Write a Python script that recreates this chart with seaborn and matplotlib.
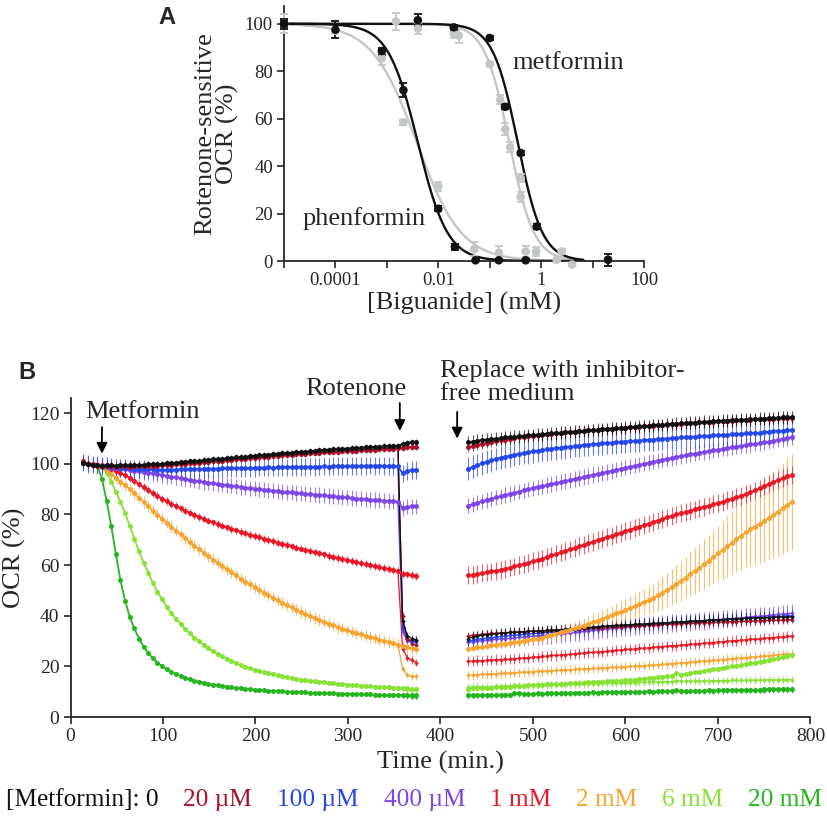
import numpy as np
import pandas as pd
import seaborn as sns
import matplotlib.pyplot as plt
from matplotlib.offsetbox import TextArea, HPacker, AnchoredOffsetbox
from matplotlib.ticker import NullLocator

# ---------------- panel A: dose response (conc in mM, % rotenone-sensitive OCR) ----------------
phen_black_x = [1e-5, 1e-4, 8e-4, 2.1e-3, 0.01, 0.021, 0.053, 0.15, 0.5]
phen_black_y = [100, 97.5, 88.5, 72, 22, 6, 0.3, 0.3, 0.3]
phen_black_e = [1.5, 3.5, 1.5, 3, 1, 1.2, 0.5, 0.5, 0.5]

met_black_x = [1e-5, 0.004, 0.02, 0.1, 0.2, 0.4, 0.82, 20]
met_black_y = [100, 101.5, 98.5, 94, 65, 45.5, 14.5, 0.5]
met_black_e = [2, 2.5, 1, 1, 1, 1, 1, 2.5]

phen_gray_x = [1e-5, 1e-4, 8e-4, 2.1e-3, 0.01, 0.05, 0.15, 0.5]
phen_gray_y = [100, 97, 85.5, 58.5, 31.5, 5, 3.5, 4]
phen_gray_e = [4, 1, 3, 1, 2, 3, 3, 2.5]

met_gray_x = [1e-5, 1.5e-3, 0.004, 0.02, 0.025, 0.1, 0.16, 0.2, 0.25, 0.4, 0.4, 0.8, 2, 2.5, 4, 20]
met_gray_y = [100, 101, 98, 96, 95, 83, 68, 55.5, 48, 35, 27, 4, 0.5, 4, -1.5, 0.5]
met_gray_e = [4, 3.5, 2.5, 2, 3, 1, 2, 2.5, 2, 1.5, 2, 2, 0.5, 1, 0.5, 1]

# fitted curves: (IC50 in mM, Hill slope)
fit_phen_black = (0.004, 1.5)
fit_phen_gray = (0.0038, 1.0)
fit_met_black = (0.35, 1.8)
fit_met_gray = (0.24, 1.8)

a_xticks = [1e-5, 1e-4, 1e-3, 1e-2, 1e-1, 1, 10, 100]
a_xticklabels = ['', '0.0001', '', '0.01', '', '1', '', '100']

# ---------------- panel B: OCR time course ----------------
conc_labels = ['0', '20 µM', '100 µM', '400 µM', '1 mM', '2 mM', '6 mM', '20 mM']
conc_colors = ['#111111', '#a8102a', '#2347e8', '#7c45e6', '#ea1826', '#f6a531', '#86e234', '#25b51f']

t_pre = list(range(14, 355, 5))      # before rotenone
t_tail = [359, 364, 369, 374]        # after rotenone injection
t_post = list(range(430, 781, 5))    # after medium change

pre_0 = [100.5, 100, 99.5, 99.5, 99, 99.5, 99.5, 99.3, 99.5, 99.5,
         99.4, 99.5, 99.6, 99.5, 99.8, 100, 99.8, 100, 100.2, 100.3,
         100.5, 100.6, 100.8, 101, 101.2, 101.1, 101.4, 101.6, 101.8, 101.9,
         102, 102.2, 102.4, 102.5, 102.7, 102.8, 103, 103.2, 103.3, 103.4,
         103.6, 103.8, 104, 104.1, 104.3, 104.4, 104.6, 104.7, 104.8, 105,
         105.2, 105.3, 105.5, 105.6, 105.7, 105.9, 106, 106, 106.2, 106.3,
         106.4, 106.5, 106.6, 106.7, 106.8, 106.9, 107, 107.1, 107.2]
pre_20u = [101, 100, 99.5, 99.2, 98.8, 99, 99, 98.8, 99, 99,
           98.9, 99, 99, 99.1, 99.2, 99.3, 99.3, 99.5, 99.6, 99.7,
           99.8, 100, 100.1, 100.3, 100.5, 100.5, 100.7, 100.9, 101, 101.2,
           101.3, 101.5, 101.6, 101.8, 101.9, 102.1, 102.2, 102.4, 102.5, 102.7,
           102.8, 103, 103.1, 103.3, 103.4, 103.5, 103.7, 103.8, 103.9, 104.1,
           104.2, 104.3, 104.5, 104.6, 104.7, 104.8, 104.9, 105, 105.1, 105.2,
           105.3, 105.4, 105.5, 105.6, 105.7, 105.8, 105.9, 106, 106.1]
pre_100u = [100.5, 100, 99.7, 99.5, 99.2, 99, 98.8, 98.6, 98.5, 98.3,
            98.2, 98.1, 98, 97.9, 97.8, 97.8, 97.7, 97.7, 97.6, 97.7,
            97.7, 97.8, 97.8, 97.9, 98, 97.9, 98, 98.1, 98, 98.1,
            98.2, 98.2, 98.3, 98.2, 98.3, 98.4, 98.3, 98.4, 98.5, 98.5,
            98.6, 98.5, 98.6, 98.7, 98.6, 98.7, 98.8, 98.7, 98.8, 98.9,
            98.8, 98.9, 99, 98.9, 99, 99.1, 99, 99.1, 99.2, 99.1,
            99.2, 99.2, 99.3, 99.2, 99.3, 99.2, 99.1, 99, 99]
pre_400u = [100.5, 100, 99.7, 99.5, 99.2, 98.8, 98.5, 98.2, 98, 97.8,
            97.5, 97.3, 97, 96.8, 96.5, 96.2, 96, 95.6, 95.2, 94.9,
            94.6, 94.3, 94, 93.7, 93.4, 93.1, 92.8, 92.5, 92.3, 92,
            91.8, 91.5, 91.3, 91.1, 90.8, 90.6, 90.4, 90.2, 90, 89.8,
            89.6, 89.4, 89.2, 89, 88.8, 88.7, 88.5, 88.3, 88.2, 88,
            87.8, 87.7, 87.5, 87.3, 87.2, 87, 86.8, 86.7, 86.5, 86.3,
            86.2, 86, 85.9, 85.7, 85.6, 85.4, 85.3, 85.2, 85]
pre_1m = [100.5, 100, 99.8, 99.6, 99.5, 99, 98, 97, 96.3, 95.5,
          94.5, 93.3, 92, 90.8, 89.6, 88.4, 87.3, 86.2, 85.2, 84.2,
          83.3, 82.4, 81.5, 80.7, 79.9, 79.1, 78.4, 77.6, 76.9, 76.2,
          75.6, 74.9, 74.3, 73.7, 73.1, 72.6, 72, 71.5, 71, 70.4,
          69.9, 69.4, 68.9, 68.4, 67.9, 67.4, 66.9, 66.5, 66, 65.5,
          65, 64.6, 64.2, 63.7, 63.3, 62.8, 62.4, 62, 61.6, 61.2,
          60.8, 60.4, 60, 59.6, 59.2, 58.8, 58.4, 58, 57.6]
pre_2m = [100.5, 100, 99.8, 99.5, 99, 97.5, 96, 94.5, 93, 91.5,
          90, 88.3, 86.6, 84.9, 83.2, 81.5, 79.9, 78.3, 76.7, 75.1,
          73.6, 72.1, 70.6, 69.1, 67.7, 66.3, 64.9, 63.5, 62.2, 60.9,
          59.6, 58.3, 57.1, 55.9, 54.7, 53.5, 52.4, 51.3, 50.2, 49.1,
          48.1, 47.1, 46.1, 45.1, 44.2, 43.3, 42.4, 41.5, 40.7, 39.9,
          39.1, 38.3, 37.6, 36.9, 36.2, 35.5, 34.9, 34.3, 33.7, 33.1,
          32.6, 32.1, 31.6, 31.1, 30.6, 30.1, 29.6, 29.1, 28.6]
pre_6m = [100.5, 100, 99.8, 99.5, 99, 96.5, 93, 89, 85, 80.5,
          75.5, 70.5, 65.5, 61, 57, 53, 49.5, 46.5, 43.5, 41,
          38.8, 36.7, 34.8, 33, 31.4, 29.9, 28.5, 27.2, 26, 24.9,
          23.9, 23, 22.1, 21.3, 20.6, 19.9, 19.3, 18.7, 18.2, 17.7,
          17.2, 16.8, 16.4, 16, 15.7, 15.4, 15.1, 14.8, 14.5, 14.3,
          14.1, 13.9, 13.7, 13.5, 13.3, 13.1, 13, 12.8, 12.7, 12.5,
          12.4, 12.3, 12.1, 12, 11.9, 11.8, 11.7, 11.6, 11.5]
pre_20m = [100.5, 100, 99.8, 99.5, 94, 85.5, 75.5, 64.5, 54, 46,
           39.5, 35, 31, 27.8, 25.2, 23.2, 21.5, 20.1, 18.9, 17.9,
           17, 16.2, 15.5, 14.9, 14.4, 13.9, 13.5, 13.1, 12.8, 12.5,
           12.2, 12, 11.7, 11.5, 11.3, 11.1, 11, 10.8, 10.7, 10.5,
           10.4, 10.3, 10.2, 10.1, 10, 9.9, 9.8, 9.7, 9.7, 9.6,
           9.5, 9.5, 9.4, 9.3, 9.3, 9.2, 9.2, 9.1, 9.1, 9,
           9, 8.9, 8.9, 8.8, 8.8, 8.8, 8.7, 8.7, 8.7]

tail_ctrl = [[107.8, 108.4, 108.5, 108.6], [106.2, 106.5, 106.6, 106.8],
             [96.2, 97.2, 97.5, 97.6], [82.5, 83, 83.2, 83.3],
             [56.5, 56.3, 56, 55.8], [28, 27.5, 27.2, 27],
             [11.4, 11.3, 11.2, 11.2], [8.6, 8.5, 8.5, 8.5]]
tail_rot = [[38, 32, 31, 30.5], [40, 31, 29, 28.5],
            [35, 31, 30, 29.5], [34, 30, 30, 30.5],
            [27, 23.5, 22.5, 21.5], [19, 16.5, 16, 16],
            [11, 10.6, 10.5, 10.5], [8.4, 8.1, 8, 8]]

post_ctrl_0 = [108.5, 108.8, 109.2, 109.3, 109.6, 109.8, 110, 110.1, 110.4, 110.5,
               110.7, 110.9, 111, 111.2, 111.4, 111.5, 111.7, 111.8, 112, 112.1,
               112.3, 112.4, 112.6, 112.7, 112.9, 113, 113.2, 113.3, 113.5, 113.6,
               113.8, 113.9, 114, 114.2, 114.3, 114.5, 114.6, 114.8, 114.9, 115,
               115.2, 115.3, 115.4, 115.6, 115.7, 115.8, 116, 116.1, 116.2, 116.3,
               116.5, 116.6, 116.7, 116.8, 116.9, 117, 117.1, 117.2, 117.3, 117.4,
               117.5, 117.6, 117.7, 117.8, 117.9, 118, 118.1, 118.2, 118.3, 118.4,
               118.5]
post_ctrl_20u = [106.5, 107, 107.4, 107.8, 108.2, 108.6, 109, 109.3, 109.6, 109.9,
                 110.2, 110.4, 110.6, 110.9, 111.1, 111.3, 111.5, 111.7, 111.9, 112,
                 112.2, 112.4, 112.5, 112.7, 112.9, 113, 113.2, 113.3, 113.5, 113.6,
                 113.8, 113.9, 114, 114.2, 114.3, 114.5, 114.6, 114.7, 114.9, 115,
                 115.1, 115.3, 115.4, 115.5, 115.6, 115.8, 115.9, 116, 116.1, 116.2,
                 116.4, 116.5, 116.6, 116.7, 116.8, 116.9, 117, 117.1, 117.2, 117.3,
                 117.4, 117.5, 117.6, 117.7, 117.7, 117.8, 117.9, 118, 118, 118.1,
                 118.2]
post_ctrl_100u = [98, 98.8, 99.5, 100.2, 100.8, 101.4, 101.9, 102.4, 102.8, 103.2,
                  103.6, 104, 104.3, 104.6, 104.9, 105.2, 105.5, 105.7, 106, 106.2,
                  106.4, 106.6, 106.8, 107, 107.2, 107.4, 107.6, 107.8, 107.9, 108.1,
                  108.2, 108.4, 108.5, 108.7, 108.8, 109, 109.1, 109.2, 109.4, 109.5,
                  109.6, 109.8, 109.9, 110, 110.1, 110.3, 110.4, 110.5, 110.6, 110.7,
                  110.9, 111, 111.1, 111.2, 111.3, 111.4, 111.5, 111.6, 111.8, 111.9,
                  112, 112.1, 112.2, 112.3, 112.5, 112.6, 112.8, 113, 113.1, 113.3,
                  113.4]
post_ctrl_400u = [83.5, 84, 84.6, 85.2, 85.7, 86.2, 86.7, 87.2, 87.7, 88.1,
                  88.6, 89, 89.5, 89.9, 90.4, 90.8, 91.2, 91.6, 92, 92.4,
                  92.8, 93.2, 93.6, 94, 94.4, 94.8, 95.2, 95.6, 96, 96.4,
                  96.8, 97.2, 97.6, 98, 98.4, 98.8, 99.2, 99.6, 100, 100.4,
                  100.8, 101.2, 101.6, 102, 102.3, 102.7, 103, 103.4, 103.7, 104,
                  104.4, 104.7, 105, 105.3, 105.6, 105.9, 106.2, 106.5, 106.8, 107.1,
                  107.4, 107.7, 107.9, 108.2, 108.5, 108.8, 109.1, 109.5, 109.8, 110.2,
                  110.5]
post_ctrl_1m = [56, 56.2, 56.5, 56.8, 57.1, 57.5, 57.8, 58.2, 58.6, 59,
                59.5, 60, 60.4, 60.9, 61.5, 62, 62.6, 63.2, 63.8, 64.4,
                65, 65.6, 66.2, 66.8, 67.4, 68, 68.6, 69.2, 69.8, 70.4,
                71, 71.6, 72.2, 72.8, 73.4, 74, 74.6, 75.2, 75.8, 76.4,
                77, 77.6, 78.2, 78.8, 79.4, 80, 80.5, 81, 81.5, 82,
                82.5, 83, 83.5, 84, 84.5, 85, 85.6, 86.2, 86.8, 87.4,
                88, 88.7, 89.5, 90.3, 91.2, 92, 92.8, 93.6, 94.3, 95,
                95.5]
post_ctrl_2m = [27, 27.2, 27.5, 27.7, 28, 28.3, 28.5, 28.8, 29, 29.3,
                29.5, 29.8, 30.1, 30.4, 30.7, 31, 31.4, 31.9, 32.4, 32.9,
                33.5, 34, 34.5, 35, 35.5, 36, 36.7, 37.4, 38.1, 38.8,
                39.5, 40.2, 40.9, 41.6, 42.3, 43, 43.8, 44.6, 45.4, 46.2,
                47, 48, 49.1, 50.2, 51.3, 52.5, 53.8, 55.1, 56.4, 57.7,
                59, 60.4, 61.8, 63.2, 64.6, 66, 67.4, 68.8, 70.2, 71.6,
                73, 74.1, 75.2, 76.3, 77.4, 78.5, 79.8, 81.1, 82.4, 83.7,
                85]
post_ctrl_6m = [11.2, 11.3, 11.4, 11.5, 11.6, 11.6, 11.7, 11.8, 11.9, 12,
                12.4, 12.3, 12.4, 12.5, 12.6, 12.7, 12.8, 12.9, 13, 13,
                13.1, 13.2, 13.3, 13.4, 13.5, 13.6, 13.7, 13.8, 13.9, 14,
                14.1, 14.2, 14.3, 14.4, 14.5, 14.7, 14.8, 15, 15.2, 15.3,
                15.5, 15.7, 15.9, 16.1, 16.3, 17.2, 16.7, 17, 17.3, 17.6,
                17.9, 18.2, 18.5, 18.8, 19.1, 19.4, 19.7, 20, 20.3, 20.6,
                20.9, 21.2, 21.5, 21.8, 22.1, 22.4, 22.8, 23.2, 23.6, 24,
                24.3]
post_ctrl_20m = [8.6, 8.5, 8.6, 8.7, 8.6, 8.7, 8.8, 8.7, 8.8, 8.8,
                 9.5, 9.3, 9.2, 9.1, 9.2, 9.3, 9.2, 9.3, 9.4, 9.3,
                 9.4, 9.5, 9.4, 9.5, 9.6, 9.5, 9.6, 9.7, 9.6, 9.7,
                 9.8, 9.7, 9.8, 9.9, 9.8, 9.9, 10, 9.9, 10, 10.1,
                 10, 10.1, 10.2, 10.1, 10.2, 10.6, 10.3, 10.2, 10.3, 10.4,
                 10.3, 10.4, 10.5, 10.4, 10.5, 10.6, 10.5, 10.6, 10.7, 10.6,
                 10.7, 10.8, 10.7, 10.8, 10.9, 11, 10.9, 11, 11.1, 11,
                 11.1]

post_rot_0 = [31, 31.6, 32, 32.3, 32.5, 32.7, 32.9, 33.1, 33.2, 33.4,
              33.5, 33.6, 33.7, 33.8, 33.9, 34, 34.1, 34.2, 34.3, 34.4,
              34.5, 34.6, 34.8, 34.9, 35.1, 35.2, 35.4, 35.5, 35.7, 35.8,
              36, 36.1, 36.2, 36.3, 36.4, 36.5, 36.6, 36.7, 36.8, 36.9,
              37, 37.1, 37.2, 37.3, 37.4, 37.5, 37.6, 37.7, 37.8, 37.9,
              38, 38.1, 38.2, 38.3, 38.4, 38.5, 38.6, 38.7, 38.8, 38.9,
              39, 39.1, 39.1, 39.2, 39.3, 39.3, 39.4, 39.4, 39.5, 39.5,
              39.6]
post_rot_20u = [32, 32.3, 32.5, 32.7, 32.9, 33, 33.1, 33.2, 33.3, 33.4,
                33.5, 33.6, 33.7, 33.8, 33.9, 34, 34.1, 34.1, 34.2, 34.3,
                34.4, 34.5, 34.6, 34.7, 34.8, 34.9, 35, 35.1, 35.2, 35.3,
                35.4, 35.5, 35.6, 35.7, 35.8, 35.9, 36, 36.1, 36.2, 36.3,
                36.4, 36.5, 36.6, 36.6, 36.7, 36.8, 36.9, 37, 37, 37.1,
                37.2, 37.3, 37.3, 37.4, 37.5, 37.5, 37.6, 37.7, 37.7, 37.8,
                37.9, 37.9, 38, 38, 38.1, 38.2, 38.2, 38.3, 38.3, 38.4,
                38.5]
post_rot_100u = [30, 30.4, 30.7, 31, 31.2, 31.4, 31.6, 31.8, 32, 32.2,
                 32.3, 32.5, 32.7, 32.8, 33, 33.1, 33.3, 33.4, 33.6, 33.7,
                 33.9, 34, 34.2, 34.3, 34.5, 34.6, 34.8, 34.9, 35.1, 35.2,
                 35.4, 35.5, 35.7, 35.8, 36, 36.1, 36.2, 36.4, 36.5, 36.6,
                 36.8, 36.9, 37, 37.2, 37.3, 37.4, 37.5, 37.7, 37.8, 37.9,
                 38, 38.1, 38.2, 38.3, 38.4, 38.5, 38.6, 38.7, 38.8, 38.9,
                 39, 39.1, 39.2, 39.3, 39.4, 39.5, 39.6, 39.7, 39.8, 39.9,
                 40]
post_rot_400u = [29.5, 29.8, 30, 30.2, 30.4, 30.6, 30.7, 30.9, 31, 31.2,
                 31.3, 31.5, 31.6, 31.8, 31.9, 32.1, 32.2, 32.4, 32.5, 32.7,
                 32.8, 33, 33.2, 33.4, 33.6, 33.8, 34, 34.2, 34.4, 34.6,
                 34.8, 35, 35.2, 35.3, 35.5, 35.6, 35.8, 35.9, 36.1, 36.2,
                 36.4, 36.5, 36.7, 36.8, 37, 37.1, 37.3, 37.4, 37.6, 37.7,
                 37.9, 38, 38.2, 38.3, 38.5, 38.6, 38.8, 38.9, 39.1, 39.2,
                 39.4, 39.5, 39.7, 39.8, 40, 40.1, 40.3, 40.5, 40.7, 40.8,
                 41]
post_rot_1m = [22, 22.1, 22.3, 22.2, 22.4, 22.5, 22.7, 22.6, 22.8, 22.9,
               23, 23.2, 23.3, 23.4, 23.7, 23.7, 23.9, 24, 24.3, 24.3,
               24.5, 24.6, 24.8, 25, 25.1, 25.2, 25.5, 25.5, 25.7, 25.8,
               26, 26.2, 26.3, 26.4, 26.7, 26.7, 26.9, 27.1, 27.2, 27.3,
               27.5, 27.7, 27.8, 27.9, 28.2, 28.2, 28.4, 28.6, 28.7, 28.8,
               29, 29.2, 29.3, 29.4, 29.7, 29.7, 29.9, 30.1, 30.2, 30.3,
               30.5, 30.7, 30.8, 30.9, 31.2, 31.2, 31.4, 31.6, 31.7, 31.8,
               32]
post_rot_2m = [16.5, 16.6, 16.7, 16.8, 16.9, 17, 17.1, 17.2, 17.3, 17.4,
               17.5, 17.6, 17.7, 17.8, 17.9, 18, 18.1, 18.2, 18.3, 18.4,
               18.5, 18.6, 18.7, 18.8, 18.9, 19, 19.1, 19.2, 19.3, 19.4,
               19.5, 19.6, 19.7, 19.8, 19.9, 20, 20.1, 20.2, 20.3, 20.4,
               20.5, 20.6, 20.8, 20.9, 21.1, 21.2, 21.4, 21.5, 21.7, 21.8,
               22, 22.1, 22.3, 22.4, 22.6, 22.7, 22.9, 23, 23.2, 23.3,
               23.5, 23.6, 23.8, 23.9, 24.1, 24.2, 24.4, 24.5, 24.7, 24.8,
               25]
post_rot_6m = [11.8, 11.8, 11.9, 11.9, 12, 12, 12.1, 12.1, 12.2, 12.2,
               12.5, 12.4, 12.4, 12.5, 12.5, 12.6, 12.6, 12.7, 12.7, 12.8,
               12.8, 12.9, 12.9, 13, 13, 13.1, 13.1, 13.2, 13.2, 13.3,
               13.3, 13.4, 13.4, 13.5, 13.5, 13.6, 13.6, 13.7, 13.7, 13.8,
               13.8, 13.9, 13.9, 14, 14, 14.4, 14.1, 14.1, 14.2, 14.2,
               14.2, 14.3, 14.3, 14.3, 14.4, 14.4, 14.4, 14.5, 14.5, 14.5,
               14.5, 14.6, 14.6, 14.6, 14.6, 14.7, 14.7, 14.7, 14.7, 14.8,
               14.8]
post_rot_20m = [8.3, 8.3, 8.4, 8.4, 8.4, 8.5, 8.5, 8.5, 8.6, 8.6,
                9.1, 9, 8.9, 8.9, 9, 9, 9, 9.1, 9.1, 9.1,
                9.2, 9.2, 9.2, 9.3, 9.3, 9.3, 9.4, 9.4, 9.4, 9.5,
                9.5, 9.5, 9.6, 9.6, 9.6, 9.7, 9.7, 9.7, 9.8, 9.8,
                9.8, 9.9, 9.9, 9.9, 10, 10.3, 10, 10, 10.1, 10.1,
                10.1, 10.1, 10.2, 10.2, 10.2, 10.2, 10.3, 10.3, 10.3, 10.3,
                10.3, 10.4, 10.4, 10.4, 10.4, 10.5, 10.5, 10.5, 10.5, 10.5,
                10.6]

# SEM (half error bar)
err_pre = [1.2, 1.2, 3.5, 3, 1.5, 2.2, 0.8, 0.8]
err_rot_tail = [1.5, 1.5, 1.5, 1.5, 1.5, 1.2, 0.8, 0.8]
err_post_ctrl = [2.5, 2, 4.5, 3, 3.5, None, 1, 1]
err_post_rot = [2, 1.5, 2.5, 3.5, 2, 1.8, 1.5, 1]
err_post_ctrl_2m = [1, 1, 1, 1, 1, 1.2, 1.2, 1.3, 1.4, 1.5,
                    1.5, 1.6, 1.7, 1.8, 1.9, 2, 2, 2.1, 2.2, 2.3,
                    2.4, 2.5, 2.6, 2.7, 2.8, 3, 3.1, 3.2, 3.4, 3.5,
                    3.6, 3.8, 4, 4.2, 4.4, 4.6, 4.8, 5, 5.3, 5.6,
                    5.9, 6.2, 6.5, 6.8, 7.1, 7.4, 7.8, 8.2, 8.6, 9,
                    9.4, 9.8, 10.2, 10.6, 11, 11.5, 12, 12.5, 13, 13.5,
                    14, 14.5, 15, 15.5, 16, 16.5, 17, 17.5, 18, 18.5,
                    19]

pre = [pre_0, pre_20u, pre_100u, pre_400u, pre_1m, pre_2m, pre_6m, pre_20m]
post_ctrl = [post_ctrl_0, post_ctrl_20u, post_ctrl_100u, post_ctrl_400u,
             post_ctrl_1m, post_ctrl_2m, post_ctrl_6m, post_ctrl_20m]
post_rot = [post_rot_0, post_rot_20u, post_rot_100u, post_rot_400u,
            post_rot_1m, post_rot_2m, post_rot_6m, post_rot_20m]

# long table, one row per measurement
rows = []
for k, lab in enumerate(conc_labels):
    e_post = err_post_ctrl_2m if err_post_ctrl[k] is None else [err_post_ctrl[k]] * len(t_post)
    traces = [
        ('ctrl', 'a', t_pre + t_tail, pre[k] + tail_ctrl[k], [err_pre[k]] * (len(t_pre) + 4)),
        ('rot', 'a', [t_pre[-1]] + t_tail, [pre[k][-1]] + tail_rot[k], [0] + [err_rot_tail[k]] * 4),
        ('ctrl', 'b', t_post, post_ctrl[k], e_post),
        ('rot', 'b', t_post, post_rot[k], [err_post_rot[k]] * len(t_post)),
    ]
    for well, seg, tt, yy, ee in traces:
        for t, y, e in zip(tt, yy, ee):
            rows.append(dict(t=t, ocr=y, err=e, conc=lab, well=well, trace=f'{lab}-{well}-{seg}'))
df = pd.DataFrame(rows)

# ---------------- figure ----------------
sns.set_style('ticks')
plt.rcParams['font.family'] = ['Liberation Serif', 'DejaVu Serif']
plt.rcParams['axes.linewidth'] = 1.3
plt.rcParams['xtick.major.width'] = 1.2
plt.rcParams['ytick.major.width'] = 1.2
plt.rcParams['xtick.major.size'] = 5
plt.rcParams['ytick.major.size'] = 5

fig = plt.figure(figsize=(8.28, 8.16), dpi=100)
W, H = 828, 816
axA = fig.add_axes([284 / W, 1 - 261 / H, 360 / W, 255 / H])
axB = fig.add_axes([70.5 / W, 1 - 717 / H, 740 / W, 319 / H])

# ---- panel A ----
axA.set_xscale('log')
xs = np.logspace(-5, 0.82, 400)
for (ic50, hill), col in [(fit_phen_gray, '#c3c7c7'), (fit_met_gray, '#c3c7c7'),
                          (fit_phen_black, '#111111'), (fit_met_black, '#111111')]:
    sns.lineplot(x=xs, y=100 / (1 + (xs / ic50) ** hill), color=col, lw=1.7, ax=axA)

for x, y, e, col in [(phen_gray_x, phen_gray_y, phen_gray_e, '#c3c7c7'),
                     (met_gray_x, met_gray_y, met_gray_e, '#c3c7c7'),
                     (phen_black_x, phen_black_y, phen_black_e, '#111111'),
                     (met_black_x, met_black_y, met_black_e, '#111111')]:
    axA.errorbar(x, y, yerr=e, fmt='none', ecolor=col, elinewidth=1.3, capsize=3,
                 capthick=1.3, clip_on=False, zorder=3)
    sns.scatterplot(x=x, y=y, color=col, s=38, edgecolor='none', ax=axA,
                    clip_on=False, zorder=4)

axA.set_xlim(1e-5, 100)
axA.set_ylim(0, 107.5)
axA.set_xticks(a_xticks)
axA.set_xticklabels(a_xticklabels)
axA.xaxis.set_minor_locator(NullLocator())
axA.set_yticks([0, 20, 40, 60, 80, 100])
axA.tick_params(labelsize=13.5, pad=3)
axA.set_xlabel('[Biguanide] (mM)', fontsize=19)
axA.set_ylabel('Rotenone-sensitive\nOCR (%)', fontsize=19, linespacing=1.0)
axA.xaxis.set_label_coords(0.5, -0.12)
axA.yaxis.set_label_coords(-0.125, 0.5)
axA.text(0.28, 83.5, 'metformin', fontsize=19, va='center', ha='left')
axA.text(2.3e-5, 18, 'phenformin', fontsize=19, va='center', ha='left')
sns.despine(ax=axA)

# ---- panel B ----
pal = dict(zip(conc_labels, conc_colors))
order = conc_labels[::-1]
for well, mk, ms, lw in [('rot', 'D', 2.3, 0.9), ('ctrl', 'o', 3.6, 1.3)]:
    sub = df[df['well'] == well]
    for lab in order:
        for _, g in sub[sub['conc'] == lab].groupby('trace'):
            axB.errorbar(g['t'], g['ocr'], yerr=g['err'], fmt='none', ecolor=pal[lab],
                         elinewidth=0.8, alpha=0.7, zorder=1.5)
    sns.lineplot(data=sub, x='t', y='ocr', hue='conc', hue_order=order, palette=pal,
                 units='trace', estimator=None, marker=mk, markersize=ms,
                 markeredgewidth=0, lw=lw, legend=False, ax=axB)

axB.set_xlim(0, 800)
axB.set_ylim(0, 126)
axB.set_xticks(range(0, 801, 100))
axB.set_yticks(range(0, 121, 20))
axB.tick_params(labelsize=14, pad=3)
axB.set_xlabel('Time (min.)', fontsize=19)
axB.set_ylabel('OCR (%)', fontsize=19)
axB.xaxis.set_label_coords(0.5, -0.105)
axB.yaxis.set_label_coords(-0.06, 0.5)
sns.despine(ax=axB)

for ax in (axA, axB):
    for lbl in ax.get_xticklabels() + ax.get_yticklabels():
        lbl.set_fontfamily('Liberation Serif')

arrow = dict(arrowstyle='-|>', color='black', lw=1.3, shrinkA=0, shrinkB=0, mutation_scale=16)
axB.text(15.5, 120.5, 'Metformin', fontsize=19, ha='left', va='center')
axB.annotate('', xy=(34, 104), xytext=(34, 114.5), arrowprops=arrow, annotation_clip=False)
axB.text(309, 129.5, 'Rotenone', fontsize=19, ha='center', va='center')
axB.annotate('', xy=(356, 113), xytext=(356, 124), arrowprops=arrow, annotation_clip=False)
axB.text(400, 132, 'Replace with inhibitor-\nfree medium', fontsize=19, ha='left',
         va='center', linespacing=1.05)
axB.annotate('', xy=(418, 110), xytext=(418, 120.5), arrowprops=arrow, annotation_clip=False)

# panel letters
fig.text(167 / W, 1 - 18 / H, 'A', fontsize=17, fontweight='bold',
         family='Liberation Sans', ha='center', va='center')
fig.text(27 / W, 1 - 373 / H, 'B', fontsize=17, fontweight='bold',
         family='Liberation Sans', ha='center', va='center')

# coloured concentration key
legend_texts = ['[Metformin]: ' + conc_labels[0]] + conc_labels[1:]
items = [TextArea(s, textprops=dict(color=c, fontsize=18.2)) for s, c in zip(legend_texts, conc_colors)]
key = AnchoredOffsetbox(loc='center', child=HPacker(children=items, align='baseline', pad=0, sep=18),
                        frameon=False, pad=0, borderpad=0,
                        bbox_to_anchor=(0.5, 1 - 800 / H), bbox_transform=fig.transFigure)
fig.add_artist(key)

fig.savefig('out.png', dpi=100)
